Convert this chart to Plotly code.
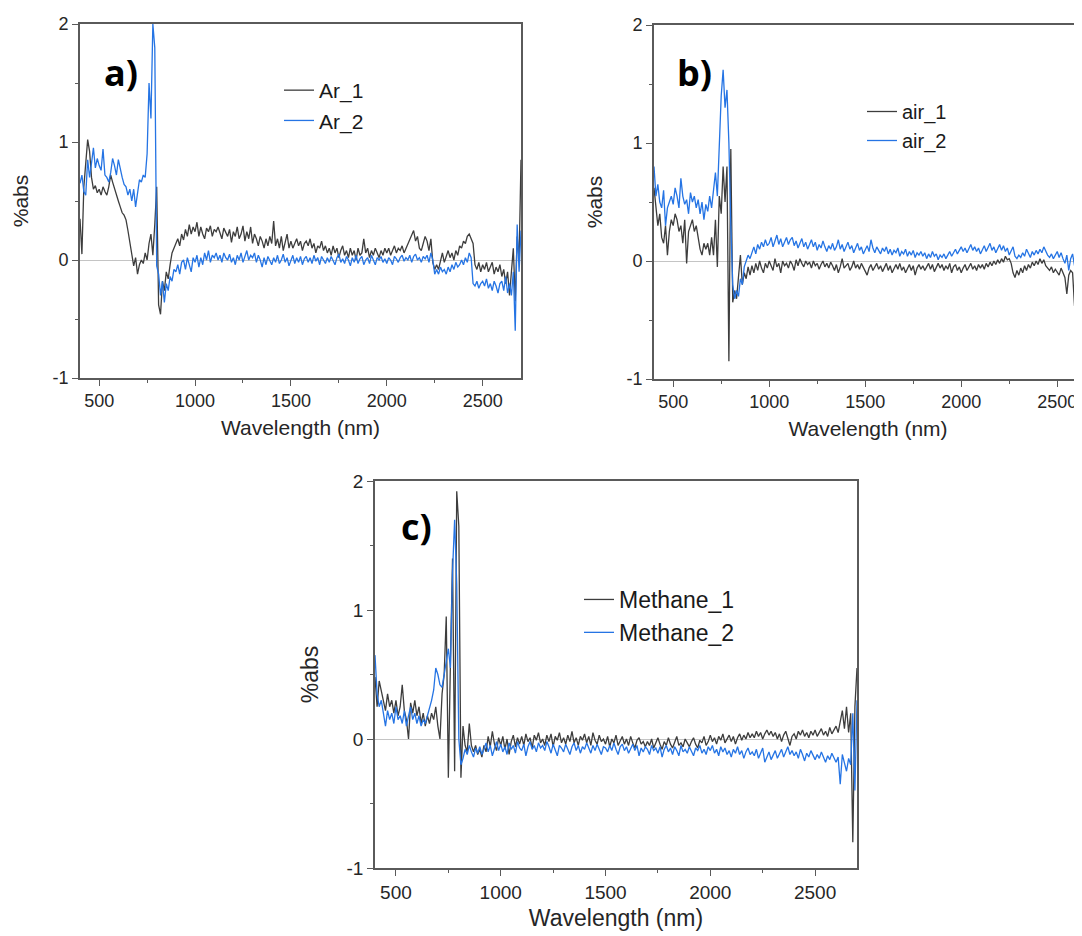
import plotly.graph_objects as go

# ---------------- data ----------------
wavelength = list(range(400, 2701, 10))  # nm, 231 points

ar_1 = [
    0.35, 0.05, 0.62, 0.80, 1.02, 0.92, 0.70, 0.60, 0.63, 0.57,
    0.60, 0.55, 0.62, 0.58, 0.55, 0.62, 0.72, 0.66, 0.60, 0.55,
    0.50, 0.45, 0.40, 0.38, 0.34, 0.25, 0.15, 0.04, -0.05, 0.02,
    -0.12, -0.04, 0.00, -0.03, 0.06, 0.00, 0.14, 0.22, 0.04, 0.30,
    0.62, -0.38, -0.46, -0.18, -0.26, -0.10, -0.16, -0.04, 0.06, 0.10,
    0.14, 0.18, 0.12, 0.22, 0.17, 0.26, 0.20, 0.30, 0.22, 0.28,
    0.24, 0.32, 0.20, 0.28, 0.22, 0.18, 0.27, 0.24, 0.29, 0.20,
    0.26, 0.24, 0.28, 0.22, 0.18, 0.27, 0.24, 0.20, 0.26, 0.15,
    0.24, 0.20, 0.28, 0.18, 0.22, 0.29, 0.16, 0.24, 0.18, 0.28,
    0.14, 0.22, 0.18, 0.12, 0.20, 0.16, 0.10, 0.18, 0.12, 0.20,
    0.14, 0.33, 0.12, 0.18, 0.10, 0.20, 0.08, 0.16, 0.22, 0.10,
    0.16, 0.10, 0.14, 0.18, 0.12, 0.16, 0.08, 0.14, 0.16, 0.12,
    0.18, 0.10, 0.14, 0.06, 0.12, 0.10, 0.16, 0.08, 0.12, 0.06,
    0.10, 0.04, 0.12, 0.06, 0.10, 0.02, 0.08, 0.12, 0.04, 0.08,
    0.02, 0.10, 0.04, 0.08, 0.00, 0.10, 0.04, 0.06, 0.18, 0.06,
    0.10, 0.02, 0.08, 0.04, 0.10, 0.06, 0.02, 0.08, 0.04, 0.10,
    0.06, 0.10, 0.04, 0.08, 0.12, 0.06, 0.10, 0.08, 0.12, 0.06,
    0.10, 0.14, 0.18, 0.22, 0.25, 0.16, 0.20, 0.10, 0.08, 0.14,
    0.20, 0.16, 0.08, 0.18, -0.02, -0.08, -0.04, -0.08, -0.02, 0.06,
    -0.02, 0.04, 0.08, 0.02, 0.06, 0.00, 0.08, 0.04, 0.12, 0.10,
    0.16, 0.14, 0.20, 0.22, 0.18, 0.14, -0.04, -0.08, -0.02, -0.10,
    -0.04, -0.08, -0.02, -0.10, -0.06, -0.02, -0.12, -0.06, -0.10, -0.04,
    -0.14, -0.08, -0.20, -0.10, -0.30, -0.12, 0.10, -0.35, 0.20, 0.00,
    0.85,
]

ar_2 = [
    0.65, 0.72, 0.58, 0.55, 0.85, 0.70, 0.82, 0.95, 0.78, 0.86,
    0.80, 0.76, 0.94, 0.72, 0.70, 0.66, 0.74, 0.86, 0.80, 0.72,
    0.85, 0.76, 0.70, 0.64, 0.62, 0.55, 0.60, 0.50, 0.60, 0.45,
    0.58, 0.68, 0.66, 0.72, 0.70, 0.90, 1.50, 1.20, 2.00, 1.80,
    -0.05, -0.12, -0.30, -0.18, -0.36, -0.20, -0.26, -0.14, -0.18, -0.08,
    -0.10, -0.04, -0.12, -0.02, 0.00, -0.08, 0.02, -0.04, -0.10, 0.02,
    -0.02, 0.04, -0.06, 0.02, -0.04, 0.06, 0.00, 0.08, -0.02, 0.04,
    0.02, 0.06, 0.00, 0.04, -0.02, 0.06, 0.02, 0.00, 0.05, -0.02,
    0.02, -0.04, 0.04, 0.00, 0.06, -0.02, 0.03, 0.08, 0.00, 0.04,
    0.02, 0.06, -0.02, 0.04, 0.00, -0.06, 0.02, -0.04, 0.03, 0.00,
    -0.04, 0.02, -0.02, 0.04, -0.03, 0.00, 0.05, -0.02, 0.02, -0.05,
    0.00, 0.04, -0.03, 0.02, -0.02, 0.03, -0.04, 0.01, 0.03, -0.02,
    0.02, -0.03, 0.04, -0.01, 0.02, -0.04, 0.03, 0.00, -0.03, 0.02,
    -0.02, 0.03, 0.00, -0.04, 0.02, 0.05, -0.02, 0.01, -0.03, 0.03,
    0.00, -0.05, 0.02, -0.02, 0.04, -0.03, 0.01, 0.03, -0.04, 0.00,
    0.02, -0.03, 0.04, -0.01, -0.04, 0.02, 0.00, 0.03, -0.02, 0.01,
    -0.03, 0.02, 0.00, -0.04, 0.03, 0.01, -0.02, 0.02, 0.04, -0.01,
    0.02, 0.00, 0.04, -0.02, 0.03, 0.05, 0.00, 0.02, -0.02, 0.03,
    0.01, 0.04, -0.02, 0.06, 0.00, -0.12, -0.08, -0.12, -0.06, -0.10,
    -0.08, -0.12, -0.06, -0.10, -0.04, -0.08, -0.02, -0.06, -0.04, 0.00,
    -0.04, 0.02, -0.02, 0.06, 0.02, -0.20, -0.22, -0.18, -0.24, -0.20,
    -0.18, -0.22, -0.16, -0.24, -0.20, -0.26, -0.18, -0.22, -0.28, -0.20,
    -0.18, -0.26, -0.14, -0.28, -0.20, -0.30, -0.10, -0.60, 0.30, -0.10,
    0.25,
]

air_1 = [
    0.62, 0.45, 0.30, 0.40, 0.20, 0.15, 0.30, 0.05, 0.25, 0.35,
    0.30, 0.40, 0.35, 0.25, 0.30, 0.15, 0.35, -0.02, 0.25, 0.30,
    0.35, 0.25, 0.30, 0.20, 0.10, 0.05, 0.15, 0.10, 0.15, 0.05,
    0.20, 0.05, 0.35, -0.05, 0.55, 0.40, 0.80, 0.50, 0.80, -0.85,
    0.95, -0.35, -0.25, -0.32, -0.15, 0.05, -0.20, -0.10, -0.15, -0.05,
    -0.12, -0.04, -0.10, -0.02, -0.08, 0.00, -0.06, -0.10, -0.02, -0.06,
    0.00, -0.04, -0.08, 0.02, -0.05, -0.02, -0.10, 0.00, -0.04, -0.02,
    -0.06, 0.00, -0.03, -0.08, 0.01, -0.04, 0.02, -0.02, -0.05, 0.00,
    -0.03, -0.01, -0.06, 0.00, -0.04, -0.02, -0.07, -0.03, 0.00, -0.05,
    -0.02, -0.06, -0.01, -0.04, -0.08, -0.03, -0.10, -0.05, 0.02, -0.06,
    -0.04, -0.02, -0.08, -0.05, 0.00, -0.06, -0.03, -0.07, -0.02, -0.05,
    -0.08, -0.12, -0.06, -0.03, -0.08, -0.05, -0.02, -0.07, -0.04, -0.09,
    -0.05, -0.02, -0.08, -0.04, -0.10, -0.06, -0.03, -0.07, -0.02, -0.08,
    -0.05, -0.10, -0.06, -0.03, -0.08, -0.04, -0.12, -0.06, -0.03, -0.07,
    -0.04, -0.08, -0.05, -0.02, -0.07, -0.03, -0.09, -0.05, -0.02, -0.06,
    -0.03, -0.08, -0.04, -0.07, -0.02, -0.10, -0.05, -0.03, -0.08, -0.05,
    -0.10, -0.06, -0.03, -0.08, -0.05, -0.02, -0.07, -0.04, -0.08, -0.03,
    -0.06, -0.03, -0.07, -0.02, -0.05, -0.01, -0.04, 0.00, -0.03, 0.01,
    -0.02, 0.02, -0.01, 0.04, 0.01, 0.02, -0.02, -0.10, -0.14, -0.08,
    -0.12, -0.06, -0.10, -0.04, -0.08, -0.03, -0.06, -0.01, -0.04, 0.00,
    -0.03, 0.02, -0.02, 0.01, -0.04, -0.06, -0.08, -0.05, -0.10, -0.07,
    -0.09, -0.12, -0.06, -0.10, -0.14, -0.28, -0.12, -0.08, -0.10, -0.38,
    -0.12, -0.10, -0.15, -0.08, -0.15, -0.10, -0.20, -0.12, -0.18, -0.10,
    -0.08,
]

air_2 = [
    0.80, 0.55, 0.65, 0.50, 0.45, 0.60, 0.30, 0.45, 0.50, 0.55,
    0.48, 0.62, 0.55, 0.45, 0.70, 0.55, 0.48, 0.52, 0.40, 0.58,
    0.50, 0.55, 0.45, 0.52, 0.40, 0.50, 0.35, 0.48, 0.42, 0.55,
    0.45, 0.60, 0.75, 0.55, 1.00, 1.40, 1.62, 1.30, 1.45, 1.00,
    0.30, -0.20, -0.32, -0.25, -0.30, -0.15, -0.20, -0.05, 0.00, 0.05,
    0.02, 0.08, 0.12, 0.06, 0.14, 0.10, 0.16, 0.12, 0.18, 0.13,
    0.15, 0.20, 0.12, 0.17, 0.22, 0.14, 0.19, 0.12, 0.16, 0.20,
    0.14, 0.18, 0.20, 0.13, 0.17, 0.11, 0.15, 0.19, 0.12, 0.16,
    0.10, 0.14, 0.18, 0.12, 0.16, 0.09, 0.14, 0.11, 0.17, 0.12,
    0.08, 0.13, 0.10, 0.15, 0.09, 0.12, 0.18, 0.10, 0.14, 0.08,
    0.12, 0.16, 0.10, 0.13, 0.07, 0.11, 0.15, 0.09, 0.12, 0.06,
    0.10, 0.13, 0.08, 0.18, 0.11, 0.07, 0.12, 0.09, 0.06, 0.11,
    0.08, 0.12, 0.06, 0.10, 0.05, 0.09, 0.07, 0.11, 0.04, 0.08,
    0.06, 0.10, 0.04, 0.08, 0.05, 0.09, 0.03, 0.07, 0.05, 0.08,
    0.04, 0.07, 0.02, 0.06, 0.03, 0.08, 0.04, 0.06, 0.01, 0.05,
    0.03, 0.06, 0.02, 0.05, 0.08, 0.04, 0.07, 0.10, 0.06, 0.09,
    0.12, 0.08, 0.11, 0.07, 0.10, 0.14, 0.09, 0.12, 0.08, 0.11,
    0.06, 0.10, 0.13, 0.08, 0.12, 0.15, 0.09, 0.12, 0.07, 0.11,
    0.14, 0.09, 0.13, 0.08, 0.11, 0.05, 0.08, 0.12, 0.04, 0.02,
    0.05, 0.03, 0.07, 0.04, 0.10, 0.06, 0.03, 0.08, 0.05, 0.09,
    0.06, 0.10, 0.07, 0.12, 0.08, 0.05, 0.03, 0.06, 0.02, 0.05,
    0.08, 0.03, 0.07, 0.02, -0.02, 0.05, -0.08, 0.02, 0.06, -0.04,
    0.03, -0.05, 0.02, -0.06, 0.01, -0.03, 0.00, -0.08, 0.04, -0.02,
    0.00,
]

methane_1 = [
    0.48, 0.25, 0.45, 0.38, 0.30, 0.22, 0.35, 0.25, 0.30, 0.20,
    0.30, 0.18, 0.25, 0.42, 0.22, 0.15, 0.00, 0.28, 0.20, 0.30,
    0.18, 0.25, 0.12, 0.20, 0.10, 0.18, 0.12, 0.20, 0.15, 0.25,
    0.10, 0.00, 0.35, 0.50, 0.95, -0.30, 0.60, 1.40, -0.25, 1.92,
    1.65, -0.30, 0.10, -0.05, -0.10, 0.12, -0.05, -0.10, -0.05, -0.12,
    -0.08, -0.14, -0.05, -0.10, 0.02, -0.06, 0.06, -0.04, -0.09, 0.01,
    -0.05, 0.02, -0.08, 0.00, -0.12, -0.02, 0.03, -0.06, 0.01, -0.04,
    0.02, -0.05, 0.04, -0.02, 0.01, -0.07, 0.03, -0.01, 0.05, -0.03,
    0.00, -0.05, 0.03, -0.02, 0.04, -0.06, 0.02, -0.01, 0.05, -0.03,
    0.01, -0.04, 0.03, -0.02, 0.06, -0.03, 0.01, -0.05, 0.02, -0.01,
    0.04, -0.03, 0.02, -0.05, 0.05, -0.01, -0.04, 0.03, -0.02, 0.00,
    -0.04, 0.02, -0.06, 0.00, -0.03, 0.03, -0.05, -0.01, 0.02, -0.04,
    0.00, -0.05, 0.02, -0.03, -0.07, -0.01, 0.01, -0.04, -0.02, -0.06,
    -0.02, -0.05, 0.00, -0.07, -0.03, 0.01, -0.04, -0.08, -0.02, -0.05,
    0.01, -0.04, -0.07, -0.02, 0.02, -0.05, -0.03, -0.06, 0.00, -0.03,
    -0.06, -0.02, 0.01, -0.04, -0.07, -0.01, -0.03, 0.02, -0.05, -0.02,
    0.03, -0.02, 0.01, -0.04, 0.02, -0.01, 0.04, -0.03, 0.00, 0.03,
    -0.02, 0.02, -0.04, 0.01, 0.04, -0.01, 0.03, 0.00, 0.05, 0.01,
    0.04, 0.01, 0.06, 0.02, 0.05, 0.00, 0.04, 0.07, 0.03, 0.06,
    0.02, 0.05, 0.00, 0.04, -0.02, 0.03, 0.06, 0.01, -0.05, 0.02,
    0.04, 0.00, 0.06, 0.03, 0.07, 0.02, 0.05, 0.01, 0.06, 0.03,
    0.07, 0.02, 0.05, 0.08, 0.03, 0.06, 0.02, 0.09, 0.04, 0.07,
    0.10, 0.05, 0.15, 0.22, 0.08, 0.25, 0.05, 0.20, -0.80, 0.25,
    0.55,
]

methane_2 = [
    0.65, 0.35, 0.25, 0.30, 0.20, 0.10, 0.22, 0.15, 0.20, 0.12,
    0.25, 0.15, 0.18, 0.12, 0.22, 0.10, 0.18, 0.25, 0.15, 0.20,
    0.12, 0.18, 0.10, 0.15, 0.12, 0.18, 0.22, 0.30, 0.38, 0.55,
    0.50, 0.42, 0.40, 0.50, 0.62, 0.70, 0.55, 1.30, 1.70, 1.20,
    0.00, -0.20, -0.15, -0.08, -0.12, -0.05, -0.10, -0.14, -0.07, -0.11,
    -0.06, -0.12, -0.08, -0.03, -0.10, -0.05, -0.13, -0.07, -0.02, -0.09,
    -0.04, -0.10, -0.06, -0.12, -0.03, -0.08, -0.05, -0.11, -0.02, -0.07,
    -0.09, -0.04, -0.13, -0.06, -0.02, -0.08, -0.05, -0.10, -0.03, -0.07,
    -0.05, -0.09, -0.02, -0.06, -0.11, -0.04, -0.08, -0.13, -0.05, -0.07,
    -0.10, -0.04, -0.08, -0.12, -0.06, -0.03, -0.09, -0.05, -0.11, -0.06,
    -0.08, -0.03, -0.07, -0.11, -0.05, -0.09, -0.04, -0.08, -0.12, -0.06,
    -0.07, -0.10, -0.05, -0.09, -0.03, -0.08, -0.12, -0.06, -0.04, -0.09,
    -0.06, -0.11, -0.07, -0.04, -0.09, -0.05, -0.13, -0.07, -0.10, -0.06,
    -0.08, -0.12, -0.05, -0.09, -0.07, -0.11, -0.06, -0.14, -0.08, -0.05,
    -0.10, -0.07, -0.12, -0.06, -0.09, -0.13, -0.05, -0.10, -0.08, -0.11,
    -0.06, -0.10, -0.13, -0.07, -0.09, -0.05, -0.11, -0.08, -0.12, -0.06,
    -0.09, -0.05, -0.11, -0.08, -0.13, -0.06, -0.10, -0.07, -0.12, -0.09,
    -0.14, -0.08, -0.11, -0.06, -0.12, -0.09, -0.15, -0.10, -0.07, -0.12,
    -0.10, -0.13, -0.08, -0.15, -0.11, -0.07, -0.18, -0.14, -0.10, -0.16,
    -0.12, -0.09, -0.15, -0.11, -0.08, -0.14, -0.10, -0.06, -0.12, -0.09,
    -0.13, -0.10, -0.15, -0.08, -0.12, -0.17, -0.11, -0.14, -0.09, -0.13,
    -0.16, -0.12, -0.15, -0.10, -0.14, -0.18, -0.13, -0.16, -0.11, -0.15,
    -0.18, -0.14, -0.35, -0.12, -0.18, -0.25, -0.15, -0.20, 0.20, -0.40,
    0.30,
]

x_ticks = [500, 1000, 1500, 2000, 2500]
y_ticks = [-1, 0, 1, 2]
y_tick_text = ["-1", "0", "1", "2"]

# ---------------- style ----------------
# The page body adds an 8 px margin, so the figure is 8 px smaller than the
# window and page coordinates are shifted by 8 px.
OFF = 8
W, H = 1082 - OFF, 936 - OFF
BLACK = "#3d3d3d"
BLUE = "#2574e4"
AXIS = "#5a5a5a"
FONT = "Liberation Sans, Arial, sans-serif"


def fx(p):
    return (p - OFF) / W


def fy(p):
    return 1 - (p - OFF) / H


panels = [
    dict(sfx="", dom_x=(80, 521), dom_y=(24, 378), xr=[400, 2700], mirror=True, tf=18, ttl=21,
         ystand=18, xstand=10,
         legend="legend", series=[("Ar_1", ar_1, BLACK), ("Ar_2", ar_2, BLUE)],
         label="a)", label_xy=(102, 73)),
    dict(sfx="2", dom_x=(654, 1082), dom_y=(25, 379), xr=[400, 2629], mirror=False, tf=18, ttl=21,
         ystand=18, xstand=10,
         legend="legend2", series=[("air_1", air_1, BLACK), ("air_2", air_2, BLUE)],
         label="b)", label_xy=(675, 73)),
    dict(sfx="3", dom_x=(375, 857), dom_y=(481, 868), xr=[400, 2700], mirror=True, tf=19, ttl=23,
         ystand=21, xstand=8,
         legend="legend3", series=[("Methane_1", methane_1, BLACK), ("Methane_2", methane_2, BLUE)],
         label="c)", label_xy=(399, 526)),
]

fig = go.Figure()
layout = dict(
    width=W, height=H,
    margin=dict(l=0, r=0, t=0, b=0, autoexpand=False),
    paper_bgcolor="white", plot_bgcolor="white",
    font=dict(family=FONT, color="#262626"),
    showlegend=True,
)
annotations = []

for p in panels:
    xa = "x" + p["sfx"]
    ya = "y" + p["sfx"]
    for name, ys, col in p["series"]:
        fig.add_trace(go.Scatter(
            x=wavelength, y=ys, name=name, mode="lines",
            line=dict(color=col, width=1.3),
            xaxis=xa, yaxis=ya, legend=p["legend"],
        ))
    common = dict(showline=True, linecolor=AXIS, linewidth=1.6, ticks="outside",
                  ticklen=6, tickwidth=1.4, tickcolor=AXIS, showgrid=False, automargin=False,
                  tickfont=dict(family=FONT, size=p["tf"], color="#262626"))
    layout["xaxis" + p["sfx"]] = dict(
        common, domain=[fx(p["dom_x"][0]), fx(p["dom_x"][1])], anchor=ya,
        range=p["xr"], tickvals=x_ticks, zeroline=False, mirror=True,
        minor=dict(ticks="outside", ticklen=3, tickwidth=1.2, tickcolor=AXIS,
                   tickvals=[750, 1250, 1750, 2250]),
        title=dict(text="Wavelength (nm)", font=dict(family=FONT, size=p["ttl"], color="#262626"),
                   standoff=p["xstand"]),
    )
    layout["yaxis" + p["sfx"]] = dict(
        common, domain=[fy(p["dom_y"][1]), fy(p["dom_y"][0])], anchor=xa,
        range=[-1, 2], tickvals=y_ticks, ticktext=y_tick_text, mirror=p["mirror"],
        zeroline=True, zerolinecolor="#c4c4c4", zerolinewidth=1,
        minor=dict(ticks="outside", ticklen=3, tickwidth=1.2, tickcolor=AXIS,
                   tickvals=[-0.5, 0.5, 1.5]),
        title=dict(text="%abs", font=dict(family=FONT, size=p["ttl"], color="#262626"),
                   standoff=p["ystand"]),
    )
    annotations.append(dict(
        text="<b>" + p["label"] + "</b>", xref="paper", yref="paper",
        x=fx(p["label_xy"][0]), y=fy(p["label_xy"][1]), xanchor="left", yanchor="middle",
        showarrow=False, font=dict(family="Open Sans, Lato, sans-serif", size=36, color="black"),
    ))

legend_style = dict(bgcolor="rgba(255,255,255,0)", borderwidth=0, xanchor="left", yanchor="top",
                    tracegroupgap=0)
layout["legend"] = dict(legend_style, x=fx(279), y=fy(70),
                        font=dict(family=FONT, size=21, color="#1a1a1a"))
layout["legend2"] = dict(legend_style, x=fx(862), y=fy(92),
                         font=dict(family=FONT, size=20, color="#1a1a1a"))
layout["legend3"] = dict(legend_style, x=fx(579), y=fy(578),
                         font=dict(family=FONT, size=23, color="#1a1a1a"))
layout["annotations"] = annotations

fig.update_layout(**layout)
fig.write_html("out.html")
